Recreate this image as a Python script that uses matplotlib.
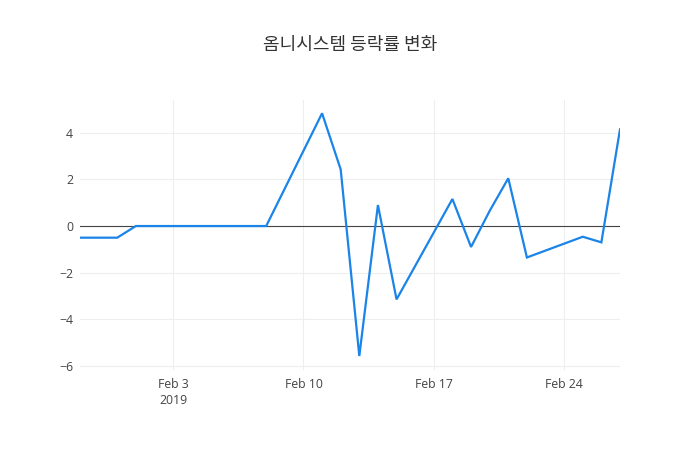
import matplotlib
matplotlib.use("Agg")
import matplotlib.pyplot as plt
import matplotlib.dates as mdates
import numpy as np
import datetime as dt

dates = ["2019-01-29", "2019-01-30", "2019-01-31", "2019-02-01", "2019-02-07",
         "2019-02-08", "2019-02-11", "2019-02-12", "2019-02-13", "2019-02-14",
         "2019-02-15", "2019-02-18", "2019-02-19", "2019-02-20", "2019-02-21",
         "2019-02-22", "2019-02-25", "2019-02-26", "2019-02-27"]
change = [-0.5, -0.5, -0.5, 0.0, 0.0,
          0.0, 4.84, 2.43, -5.58, 0.9,
          -3.15, 1.16, -0.9, 0.65, 2.05,
          -1.35, -0.46, -0.7, 4.15]
title = "옴니시스템 등락률 변화"
xtick_dates = ["2019-02-03", "2019-02-10", "2019-02-17", "2019-02-24"]
xtick_labels = ["Feb 3\n2019", "Feb 10", "Feb 17", "Feb 24"]
yticks = [-6, -4, -2, 0, 2, 4]
ytick_labels = ["\u22126", "\u22124", "\u22122", "0", "2", "4"]

x = [dt.datetime.strptime(d, "%Y-%m-%d") for d in dates]
xt = [dt.datetime.strptime(d, "%Y-%m-%d") for d in xtick_dates]

fig = plt.figure(figsize=(7, 4.5), dpi=100)
ax = fig.add_axes([80/700, 80/450, 540/700, 270/450])

ax.plot(x, change, color="#1a84e8", linewidth=1.6, solid_joinstyle="miter", zorder=3)
ax.axhline(0, color="#444444", linewidth=0.8, zorder=2)

ax.set_xlim(x[0], x[-1])
ax.set_ylim(-6.18, 5.41)
ax.set_xticks(xt)
ax.set_xticklabels(xtick_labels, fontfamily="Open Sans", fontsize=8.8, color="#444444",
                   linespacing=1.25)
ax.set_yticks(yticks)
ax.set_yticklabels(ytick_labels, fontfamily="Open Sans", fontsize=8.8, color="#444444")
ax.tick_params(axis="both", length=0)
ax.tick_params(axis="x", pad=6)
ax.tick_params(axis="y", pad=5)
ax.grid(True, color="#eeeeee", linewidth=0.8, zorder=0)
ax.set_axisbelow(True)
for s in ax.spines.values():
    s.set_visible(False)

fig.text(350/700, 1 - 45/450, title, ha="center", va="center",
         fontfamily=["Noto Sans CJK KR", "DejaVu Sans"], fontsize=13, color="#333333")

fig.savefig("out.png", dpi=100, facecolor="white")
